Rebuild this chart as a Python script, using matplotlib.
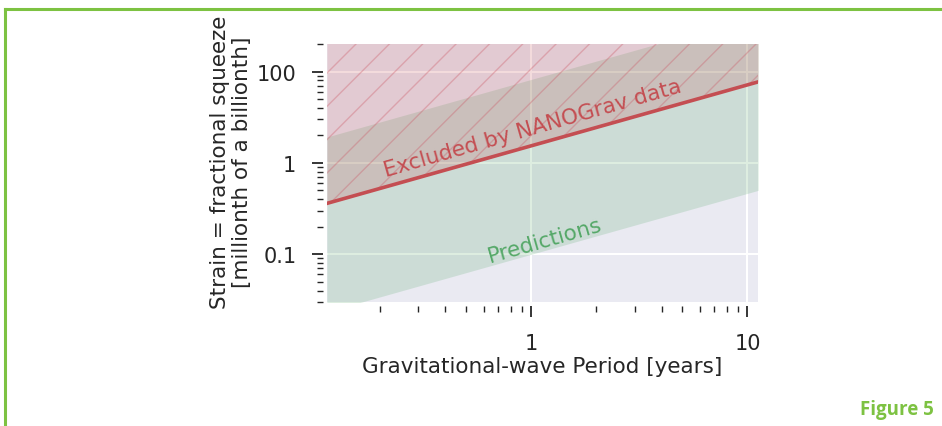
import matplotlib
matplotlib.use('Agg')
import matplotlib.pyplot as plt
from matplotlib.lines import Line2D
from matplotlib.ticker import FixedLocator, FixedFormatter, LogLocator, NullFormatter

# valores (escala log-log, inclinação ~2/3)
periodo_anos = [0.113, 11.2]
limite_nanograv = [0.36, 7.7]
predicao_inferior = [0.0234, 0.50]
predicao_superior = [1.92, 41.0]
topo_excluido = [30.0, 30.0]

yticks_pos = [0.1, 1, 10]
yticks_txt = ['0.1', '1', '100']
xticks_pos = [1, 10]
xticks_txt = ['1', '10']

VERMELHO = '#C44E52'
VERDE = '#55A868'
VERDE_MOLDURA = '#7DC242'
CINZA = '#262626'


def main():
    plt.rcParams['font.family'] = ['DejaVu Sans']
    plt.rcParams['hatch.linewidth'] = 1.0

    fig = plt.figure(figsize=(9.42, 4.27), dpi=100)
    ax = fig.add_axes([0.347, 0.2904, 0.4578, 0.6042])
    ax.set_facecolor('#EAEAF2')
    ax.set_xscale('log')
    ax.set_yscale('log')
    ax.set_xlim(0.113, 11.2)
    ax.set_ylim(0.03, 20)

    ax.fill_between(periodo_anos, predicao_inferior, predicao_superior,
                    color=VERDE, alpha=0.2, linewidth=0)
    ax.fill_between(periodo_anos, limite_nanograv, topo_excluido,
                    color=VERMELHO, alpha=0.2, linewidth=0)
    # camada só com as hachuras, um pouco mais visível
    ax.fill_between(periodo_anos, limite_nanograv, topo_excluido,
                    facecolor='none', edgecolor=(0.8, 0.35, 0.4, 0.35),
                    hatch='/', linewidth=0)
    ax.plot(periodo_anos, limite_nanograv, color=VERMELHO, linewidth=2.6)

    ax.text(1.01, 2.42, 'Excluded by NANOGrav data', color=VERMELHO,
            fontsize=15.5, rotation=16, rotation_mode='anchor',
            ha='center', va='center')
    ax.text(1.15, 0.143, 'Predictions', color=VERDE, fontsize=15.5,
            rotation=16, rotation_mode='anchor', ha='center', va='center')

    ax.grid(True, which='major', color='white', linewidth=1.5)
    ax.set_axisbelow(True)
    for lado in ax.spines:
        ax.spines[lado].set_visible(False)
    ax.spines['left'].set_position(('outward', 3))
    ax.spines['bottom'].set_position(('outward', 3))

    ax.xaxis.set_major_locator(FixedLocator(xticks_pos))
    ax.xaxis.set_major_formatter(FixedFormatter(xticks_txt))
    ax.yaxis.set_major_locator(FixedLocator(yticks_pos))
    ax.yaxis.set_major_formatter(FixedFormatter(yticks_txt))
    ax.xaxis.set_minor_locator(LogLocator(subs=range(2, 10)))
    ax.yaxis.set_minor_locator(LogLocator(subs=range(2, 10)))
    ax.xaxis.set_minor_formatter(NullFormatter())
    ax.yaxis.set_minor_formatter(NullFormatter())
    ax.tick_params(which='major', length=8, width=1.3, color=CINZA,
                   labelsize=15, labelcolor=CINZA, pad=11)
    ax.tick_params(which='minor', length=4.5, width=1.0, color=CINZA)

    ax.set_xlabel('Gravitational-wave Period [years]', fontsize=15.5, color=CINZA)
    ax.set_ylabel('Strain = fractional squeeze\n[millionth of a billionth]',
                  fontsize=15.5, color=CINZA, linespacing=1.1)
    ax.xaxis.label.set_va('center')
    ax.yaxis.label.set_va('center')
    ax.xaxis.set_label_coords(0.5, -0.25)
    ax.yaxis.set_label_coords(-0.222, 0.545)

    # moldura verde da página
    fig.add_artist(Line2D([5 / 942, 1], [1 - 9.5 / 427, 1 - 9.5 / 427],
                          color=VERDE_MOLDURA, linewidth=2.2))
    fig.add_artist(Line2D([5 / 942, 5 / 942], [0, 1 - 9.5 / 427],
                          color=VERDE_MOLDURA, linewidth=2.2))
    fig.text(897 / 942, 1 - 410 / 427, 'Figure 5', color=VERDE_MOLDURA,
             fontsize=13.5, fontweight='bold', family='Open Sans',
             ha='center', va='center')

    fig.savefig('out.png', dpi=100)


if __name__ == '__main__':
    main()
